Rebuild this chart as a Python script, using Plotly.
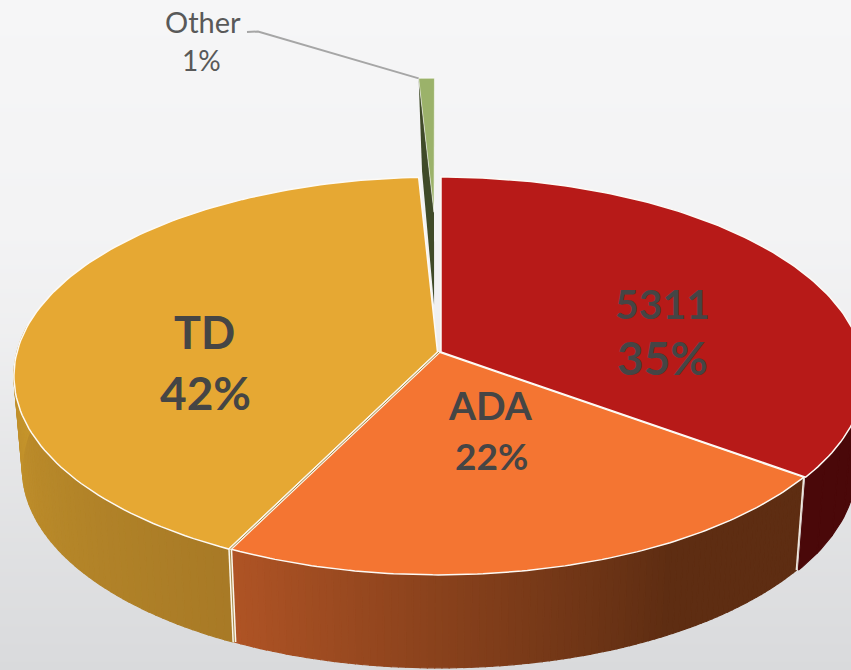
import numpy as np
import plotly.graph_objects as go

# ---- data -------------------------------------------------------------
categories = ["5311", "ADA", "TD", "Other"]
values = [35.1, 22.2, 41.9, 0.8]

# ---- styling ----------------------------------------------------------
top_colors = {"5311": "#b71a18", "ADA": "#f47532", "TD": "#e6a833", "Other": "#9bb26a"}
wall_left = {"ADA": (176, 84, 37), "TD": (199, 150, 44), "5311": (74, 8, 9)}
wall_right = {"ADA": (94, 45, 18), "TD": (168, 122, 38), "5311": (74, 8, 9)}
FONT = "Lato"
TEXT = "#454545"

CX, CY, RX, RY, K = 439.0, 352.0, 420.5, 196.0, 0.1206
DEPTH, TAPER = 93.0, 0.98
SHIFT = {"5311": (2.0, 0.0), "ADA": (0.0, 0.0), "TD": (-1.5, 0.0), "Other": (0.0, 0.0)}
OTHER_OFFSET = (-0.013, 0.78)
OTHER_RADIUS = 0.9
OTHER_LOW_DX = 3.0


def project(X, Y, low=False):
    X, Y = np.asarray(X, float), np.asarray(Y, float)
    w = 1 + K * Y
    x = CX + RX * X / w
    y = CY - RY * Y / w
    if low:
        x = CX + (x - CX) * TAPER
        y = y + DEPTH
    return x, y


def rim(a, b, radius=1.0, off=(0.0, 0.0), n=120):
    t = np.radians(np.linspace(a, b, max(2, n)))
    return off[0] + radius * np.sin(t), off[1] + radius * np.cos(t)


def closed(x, y):
    return list(x) + [x[0]], list(y) + [y[0]]


def poly(x, y, fill, line="rgba(0,0,0,0)", width=0):
    x, y = closed(list(x), list(y))
    return go.Scatter(x=x, y=y, mode="lines", fill="toself", fillcolor=fill,
                      line=dict(color=line, width=width), hoverinfo="skip", showlegend=False)


def stroke(x, y, color, width):
    return go.Scatter(x=list(x), y=list(y), mode="lines", line=dict(color=color, width=width),
                      hoverinfo="skip", showlegend=False)


def lerp(c0, c1, t):
    t = float(np.clip(t, 0, 1))
    return "rgb(%d,%d,%d)" % tuple(round(p + (q - p) * t) for p, q in zip(c0, c1))


# slice angles from the values, clockwise from 12 o'clock
edges = np.concatenate([[0], np.cumsum(values)]) * 3.6
angles = {c: (edges[i], edges[i + 1]) for i, c in enumerate(categories)}

fig = go.Figure()

# background gradient
bg_rows = [0, 240, 330, 450, 560, 670]
bg_vals = [0.0, 0.12, 0.25, 0.55, 0.78, 1.0]
fig.add_trace(go.Heatmap(x=[0, 851], y=bg_rows, z=[[v, v] for v in bg_vals], zsmooth="best",
                         zmin=0, zmax=1, showscale=False, hoverinfo="skip",
                         colorscale=[[0, "#f6f6f7"], [1, "#d9dadc"]]))

# exploded Other slice
a, b = angles["Other"]
ox, oy = rim(a, b, OTHER_RADIUS, OTHER_OFFSET, 6)
ax, ay = project(OTHER_OFFSET[0], OTHER_OFFSET[1])
alx, aly = project(OTHER_OFFSET[0], OTHER_OFFSET[1], True)
p0x, p0y = project(ox[0], oy[0])
p1x, p1y = project(ox[0], oy[0], True)
fig.add_trace(poly([ax, p0x, p1x + OTHER_LOW_DX, alx], [ay, p0y, p1y, aly], "#3f4a28"))
tx, ty = project(ox, oy)
fig.add_trace(poly([ax] + list(tx), [ay] + list(ty), top_colors["Other"], "rgba(255,255,255,0.8)", 0.7))

# walls
for cat in ["TD", "ADA", "5311"]:
    a, b = angles[cat]
    a, b = max(a, 85), min(b, 278)
    sx, sy = SHIFT[cat]
    n = {"TD": 60, "ADA": 90, "5311": 8}[cat]
    steps = np.linspace(a, b, n + 1)
    for i in range(n):
        X, Y = rim(steps[i], steps[i + 1], n=6)
        x0, y0 = project(X, Y)
        x1, y1 = project(X, Y, True)
        if cat == "ADA":
            frac = np.clip((steps[i] - 150) / (b - 150), 0, 1)
            col = lerp(wall_right[cat], wall_left[cat], frac)
        elif cat == "TD":
            frac = (steps[i] - a) / (b - a)
            col = lerp(wall_right[cat], wall_left[cat], frac)
        else:
            col = lerp(wall_left[cat], wall_right[cat], 0)
        fig.add_trace(poly(list(x0 + sx) + list(x1[::-1] + sx), list(y0) + list(y1[::-1]), col, col, 1.2))

# separators between the walls
for ang, cols in [(angles["ADA"][0], [("#f0e8e0", 1.6)]),
                  (angles["ADA"][1], [("#fbf6ea", 4), ("#a88a4a", 1)])]:
    X, Y = rim(ang, ang, n=2)
    xt, yt = project(X[:1], Y[:1])
    xb, yb = project(X[:1], Y[:1], True)
    for c, w in cols:
        fig.add_trace(stroke([xt[0], xb[0]], [yt[0], yb[0]], c, w))

# top faces
for cat in ["TD", "ADA", "5311"]:
    a, b = angles[cat]
    sx, sy = SHIFT[cat]
    X, Y = rim(a, b)
    x, y = project(X, Y)
    fig.add_trace(poly([CX + sx] + list(x + sx), [CY + sy] + list(y + sy), top_colors[cat],
                       "#fdfaf5", 1.5))

# double edge between TD and ADA
X, Y = rim(angles["ADA"][1], angles["ADA"][1], n=2)
xe, ye = project(X[:1], Y[:1])
fig.add_trace(stroke([CX, xe[0]], [CY, ye[0]], "#fbf6ea", 3))
fig.add_trace(stroke([CX, xe[0]], [CY, ye[0]], "#a88a4a", 1))

# leader line of Other
lx, ly = project(ox[0], oy[0])
fig.add_trace(stroke([247, 258, float(lx)], [32, 31.5, float(ly)], "#a6a6a6", 2))

# labels
label_pos = {
    "Other": ((203, 21), (201, 60), 29, 28, False, False),
    "TD": ((204, 332), (205, 392), 45, 46, True, True),
    "ADA": ((490, 405), (491, 455), 39, 37, True, True),
    "5311": ((662, 303), (662, 357), 41, 46, True, True),
}
annotations = []
for cat, val in zip(categories, values):
    (x1, y1), (x2, y2), s1, s2, b1, b2 = label_pos[cat]
    for (tx_, ty_, txt, s, bold) in [(x1, y1, cat, s1, b1), (x2, y2, f"{round(val)}%", s2, b2)]:
        annotations.append(dict(
            x=tx_, y=ty_, xref="x", yref="y", showarrow=False,
            text=f"<b>{txt}</b>" if bold else txt,
            font=dict(family=FONT, size=s, color="#595959" if cat == "Other" else TEXT),
            xanchor="center", yanchor="middle"))

fig.update_layout(
    width=851, height=670, margin=dict(l=0, r=0, t=0, b=0),
    paper_bgcolor="#eeeeee", plot_bgcolor="rgba(0,0,0,0)", showlegend=False,
    xaxis=dict(range=[0, 851], visible=False, fixedrange=True),
    yaxis=dict(range=[670, 0], visible=False, fixedrange=True),
    annotations=annotations,
)
fig.write_html("out.html", post_script="document.body.style.margin='0';", config={"displayModeBar": False})
